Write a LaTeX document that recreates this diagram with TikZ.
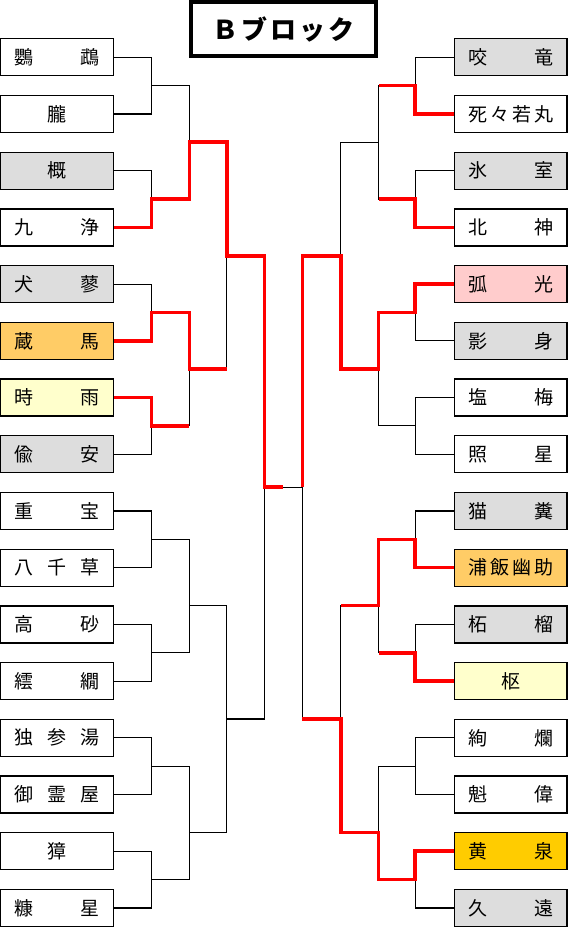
\documentclass[tikz,border=0pt]{standalone}
\usepackage{fontspec}
\newfontfamily\jp{Noto Sans CJK JP}
\definecolor{boxgray}{HTML}{DDDDDD}
\definecolor{boxorange}{HTML}{FFCC66}
\definecolor{boxcream}{HTML}{FFFFCC}
\definecolor{boxpink}{HTML}{FFCCCC}
\definecolor{boxgold}{HTML}{FFCC00}
\definecolor{winred}{HTML}{FF0000}
\begin{document}
\begin{tikzpicture}[x=1pt,y=-1pt,
        player/.style={draw,line width=1.2pt,minimum width=112.7pt,minimum height=37pt,
            inner sep=0pt,font=\jp\fontsize{19pt}{19pt}\selectfont},
        wire/.style={line width=1.1pt},
        win/.style={line width=3.6pt,winred}]
    \useasboundingbox (0,0) rectangle (568,928);

    \node[draw,line width=4pt,minimum width=185pt,minimum height=53.5pt,inner sep=0pt,
        font=\jp\bfseries\fontsize{26pt}{26pt}\selectfont] (ttl) at (283.5,29.2)
        {Ｂ\kern3pt ブ\kern3pt ロ\kern3pt ッ\kern3pt ク};

    \foreach \i/\nm/\col in
        {0/{鸚\hfill 鵡}/white, 1/{朧}/white, 2/{概}/boxgray, 3/{九\hfill 浄}/white,
        4/{犬\hfill 蓼}/boxgray, 5/{蔵\hfill 馬}/boxorange, 6/{時\hfill 雨}/boxcream,
        7/{偸\hfill 安}/boxgray, 8/{重\hfill 宝}/white, 9/{八\hfill 千\hfill 草}/white,
        10/{高\hfill 砂}/white, 11/{繧\hfill 繝}/white, 12/{独\hfill 参\hfill 湯}/white,
        13/{御\hfill 霊\hfill 屋}/white, 14/{獐}/white, 15/{糠\hfill 星}/white}
        \node[player,fill=\col] (L\i) at (56.85,{57.3+56.71*\i}) {\makebox[85pt]{\nm}};

    \foreach \i/\nm/\col in
        {0/{咬\hfill 竜}/boxgray, 1/{死\hfill 々\hfill 若\hfill 丸}/white, 2/{氷\hfill 室}/boxgray,
        3/{北\hfill 神}/white, 4/{弧\hfill 光}/boxpink, 5/{影\hfill 身}/boxgray,
        6/{塩\hfill 梅}/white, 7/{照\hfill 星}/white, 8/{猫\hfill 糞}/boxgray,
        9/{浦\hfill 飯\hfill 幽\hfill 助}/boxorange, 10/{柘\hfill 榴}/boxgray, 11/{枢}/boxcream,
        12/{絢\hfill 爛}/white, 13/{魁\hfill 偉}/white, 14/{黄\hfill 泉}/boxgold,
        15/{久\hfill 遠}/boxgray}
        \node[player,fill=\col] (R\i) at (510.6,{57.3+56.71*\i}) {\makebox[85pt]{\nm}};

    % match points
    \foreach \k in {0,...,7}
        {
            \coordinate (La\k) at (151.5,{57.3+56.71*(2*\k+0.5)});
            \coordinate (Ra\k) at (415.2,{57.3+56.71*(2*\k+0.5)});
        }
    \foreach \k/\y in {0/142.3, 1/369.2, 2/605.5, 3/832.3}
        {
            \coordinate (Lb\k) at (189.3,\y);
            \coordinate (Rb\k) at (378.6,\y);
        }
    \foreach \k/\y in {0/255.7, 1/719}
        {
            \coordinate (Lc\k) at (226.8,\y);
            \coordinate (Rc\k) at (340.7,\y);
        }
    \coordinate (Ld) at (264.3,487.2);
    \coordinate (Rd) at (302.3,487.2);
    \coordinate (fin) at (283.3,487.2);

    \foreach \i in {0,...,15}
        {
            \pgfmathtruncatemacro\k{\i/2}
            \draw[wire] (L\i.east) -| (La\k);
            \draw[wire] (R\i.west) -| (Ra\k);
        }
    \foreach \k in {0,...,7}
        {
            \pgfmathtruncatemacro\m{\k/2}
            \draw[wire] (La\k) -| (Lb\m);
            \draw[wire] (Ra\k) -| (Rb\m);
        }
    \foreach \k in {0,...,3}
        {
            \pgfmathtruncatemacro\m{\k/2}
            \draw[wire] (Lb\k) -| (Lc\m);
            \draw[wire] (Rb\k) -| (Rc\m);
        }
    \foreach \k in {0,1}
        {
            \draw[wire] (Lc\k) -| (Ld);
            \draw[wire] (Rc\k) -| (Rd);
        }
    \draw[wire] (Ld) -- (Rd);

    % winners
    \draw[win] (L3.east) -| (La1) -| (Lb0) -| (Lc0) -| (Ld) -- (fin);
    \draw[win] (L5.east) -| (La2) -| (Lb1) -- (Lb1 -| Lc0);
    \draw[win] (L6.east) -| (La3) -- (La3 -| Lb1);
    \draw[win] (R1.west) -| (Ra0) -- (Ra0 -| Rb0);
    \draw[win] (R3.west) -| (Ra1) -- (Ra1 -| Rb0);
    \draw[win] (R4.west) -| (Ra2) -| (Rb1) -| (Rc0) -| (Rd);
    \draw[win] (R9.west) -| (Ra4) -| (Rb2) -- (Rb2 -| Rc1);
    \draw[win] (R11.west) -| (Ra5) -- (Ra5 -| Rb2);
    \draw[win] (R14.west) -| (Ra7) -| (Rb3) -| (Rc1) -- (Rc1 -| Rd);
\end{tikzpicture}
\end{document}
